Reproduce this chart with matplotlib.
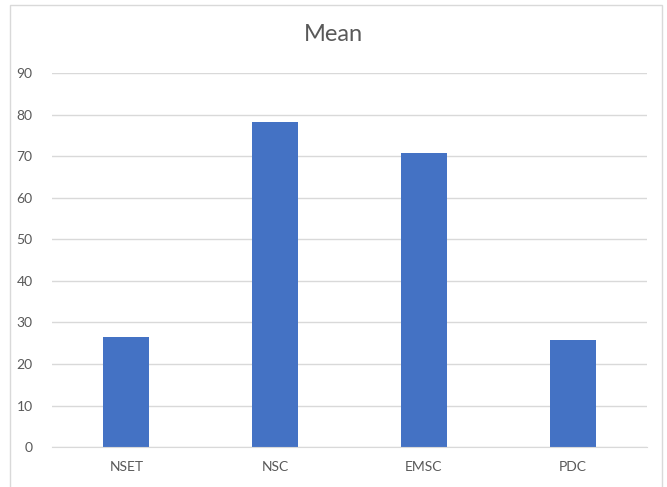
import matplotlib
matplotlib.use('Agg')
import matplotlib.pyplot as plt
from matplotlib.patches import Rectangle

categories = ['NSET', 'NSC', 'EMSC', 'PDC']
means = [26.6, 78.2, 70.7, 25.7]
yticks = [0, 10, 20, 30, 40, 50, 60, 70, 80, 90]

plt.rcParams['font.family'] = ['Lato', 'DejaVu Sans']

fig = plt.figure(figsize=(6.67, 4.87), dpi=100)
ax = fig.add_axes([0.078, 0.082, 0.892, 0.768])

# chart border like Excel
fig.patches.append(Rectangle((0.015, -0.01), 0.978, 1.0, transform=fig.transFigure,
                             fill=False, edgecolor='#D9D9D9', linewidth=1.0))

x = list(range(len(categories)))
ax.bar(x, means, width=0.31, color='#4472C4', zorder=3)

ax.set_xlim(-0.5, len(categories) - 0.5)
ax.set_ylim(0, 90)
ax.set_yticks(yticks)
ax.set_xticks(x)
ax.set_xticklabels(categories)
ax.grid(axis='y', color='#D9D9D9', linewidth=1.0, zorder=0)
ax.tick_params(axis='both', length=0, labelsize=10, colors='#595959')
ax.tick_params(axis='y', pad=14)
ax.tick_params(axis='x', pad=10)
for s in ['top', 'right', 'left']:
    ax.spines[s].set_visible(False)
ax.spines['bottom'].set_color('#D9D9D9')
ax.spines['bottom'].set_zorder(4)

fig.text(0.5, 0.93, 'Mean', ha='center', va='center', fontsize=17, color='#595959')

fig.savefig('out.png', dpi=100)
